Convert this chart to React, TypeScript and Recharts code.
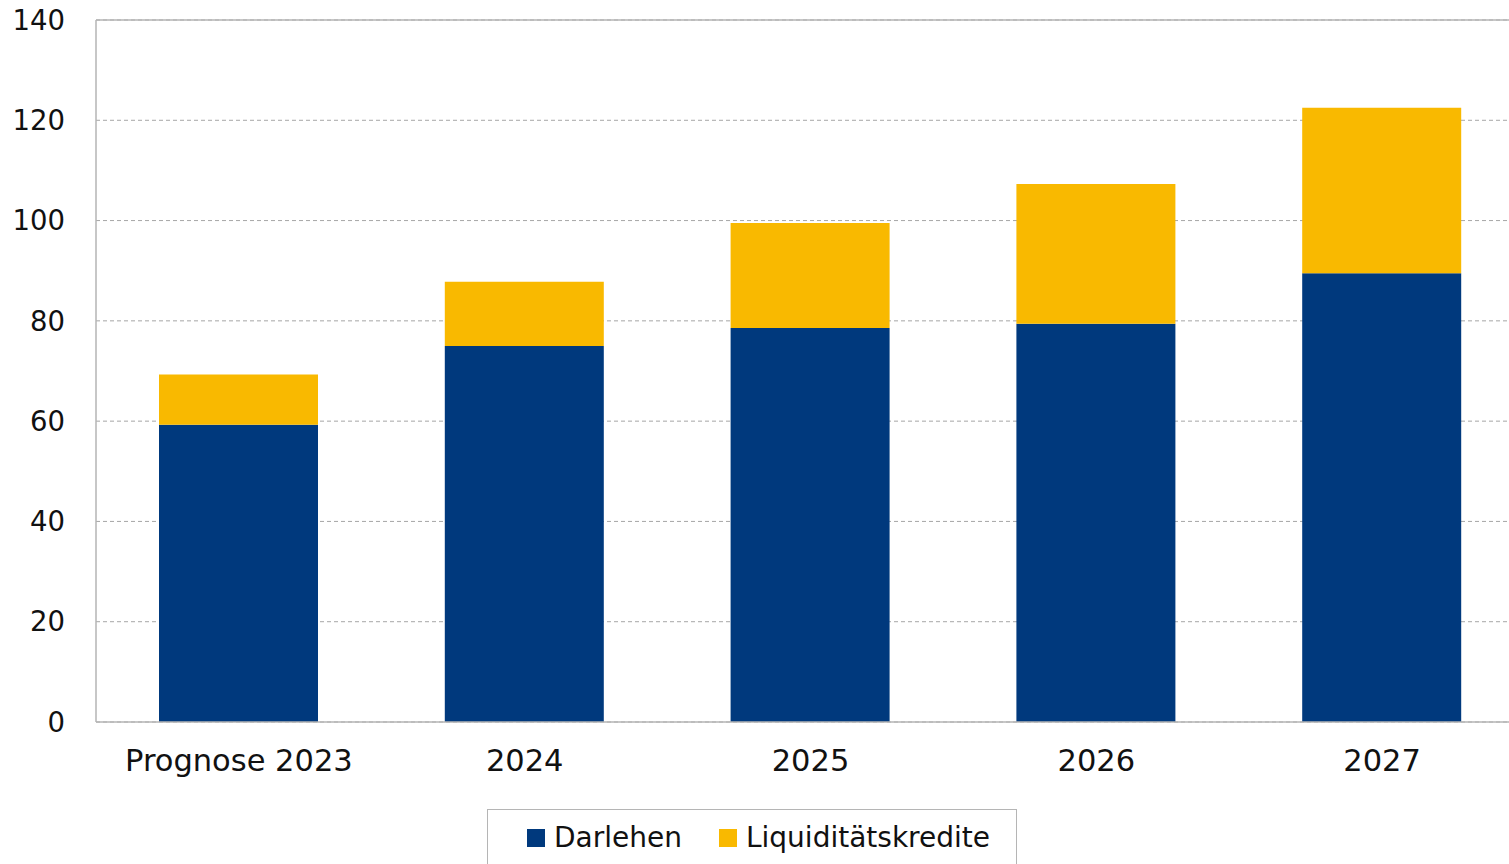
import React from 'react';
import { BarChart, Bar, XAxis, YAxis, CartesianGrid, ReferenceLine } from 'recharts';

const categories = ['Prognose 2023', '2024', '2025', '2026', '2027'];
const darlehen = [59.3, 75.0, 78.6, 79.4, 89.5];
const liquiditaet = [10.0, 12.8, 20.9, 27.9, 33.0];
const yTicks = [0, 20, 40, 60, 80, 100, 120, 140];
const seriesNames = ['Darlehen', 'Liquiditätskredite'];
const colors = ['#00397D', '#F9B900'];

const data = categories.map((c, i) => ({ name: c, d: darlehen[i], l: liquiditaet[i] }));

const FONT = '"DejaVu Sans", sans-serif';

export default function App() {
  return (
    <div style={{ position: 'absolute', left: 0, top: 0, width: 1509, height: 864, overflow: 'hidden', background: '#fff', fontFamily: FONT }}>
      <BarChart width={1525} height={864} data={data} margin={{ top: 20, right: 0, left: 0, bottom: 82 }} barCategoryGap={0}>
        <CartesianGrid vertical={false} stroke="#a6a6a6" strokeDasharray="4 3" />
        <ReferenceLine y={140} stroke="#b5b5b5" strokeWidth={1.5} />
        <XAxis
          dataKey="name"
          tickLine={false}
          tickSize={0}
          tickMargin={27}
          height={60}
          axisLine={{ stroke: '#b5b5b5', strokeWidth: 1.5 }}
          tick={{ fill: '#111', fontSize: 30.5, fontFamily: FONT }}
        />
        <YAxis
          domain={[0, 140]}
          ticks={yTicks}
          width={96}
          tickLine={false}
          tickSize={0}
          tickMargin={31}
          axisLine={{ stroke: '#b5b5b5', strokeWidth: 1.5 }}
          tick={{ fill: '#111', fontSize: 27.5, fontFamily: FONT }}
        />
        <Bar dataKey="d" name={seriesNames[0]} stackId="a" fill={colors[0]} barSize={159} isAnimationActive={false} />
        <Bar dataKey="l" name={seriesNames[1]} stackId="a" fill={colors[1]} barSize={159} isAnimationActive={false} />
      </BarChart>
      <div style={{ position: 'absolute', left: 487, top: 809, width: 530, height: 70, border: '1.5px solid #b5b5b5', boxSizing: 'border-box', background: '#fff' }}>
        <div style={{ display: 'flex', alignItems: 'center', position: 'absolute', left: 39, top: 10 }}>
          {seriesNames.map((n, i) => (
            <div key={n} style={{ display: 'flex', alignItems: 'center', marginRight: i === 0 ? 37 : 0 }}>
              <div style={{ width: 18, height: 18, background: colors[i], marginRight: 9 }} />
              <span style={{ fontSize: 28, color: '#111', fontFamily: FONT, lineHeight: '36px' }}>{n}</span>
            </div>
          ))}
        </div>
      </div>
    </div>
  );
}
